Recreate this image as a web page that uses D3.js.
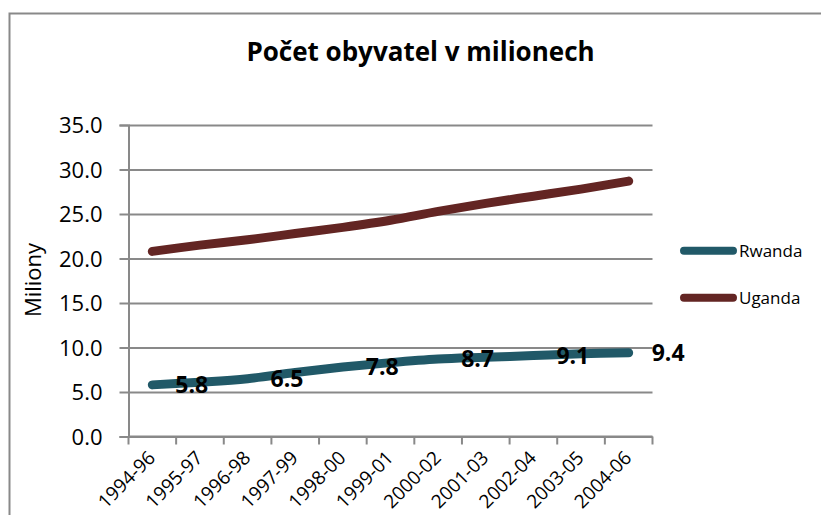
<!DOCTYPE html>
<html>
<head>
<meta charset="utf-8">
<script src="https://cdn.jsdelivr.net/npm/d3@7"></script>
<style>
	body { margin: 0; background: #fff; }
	text { font-family: "Open Sans", sans-serif; fill: #000; }
</style>
</head>
<body>
<div id="chart"></div>
<script>
var categories = ["1994-96", "1995-97", "1996-98", "1997-99", "1998-00", "1999-01",
				  "2000-02", "2001-03", "2002-04", "2003-05", "2004-06"]
var rwanda = [5.8, 6.1, 6.5, 7.2, 7.8, 8.3, 8.7, 8.9, 9.1, 9.3, 9.4]
var uganda = [20.8, 21.5, 22.1, 22.8, 23.5, 24.3, 25.3, 26.2, 27.0, 27.8, 28.7]
var yTicks = [0, 5, 10, 15, 20, 25, 30, 35]

var w = 821,
	h = 515,
	plotLeft = 128.5,
	plotRight = 652.5,
	plotTop = 125,
	plotBottom = 436.5,
	axisGrey = "#898989";

var cRwanda = "#215968",
	cUganda = "#632523";

var series = [{"name": "Rwanda", "values": rwanda, "color": cRwanda},
			  {"name": "Uganda", "values": uganda, "color": cUganda}]

var svg = d3.select("#chart")
			.append("svg")
			.attr("width", w)
			.attr("height", h)

// outer chart border (right and bottom edges fall outside the picture)
svg.append("rect")
	.attr("x", 9.5)
	.attr("y", 13.5)
	.attr("width", 900)
	.attr("height", 600)
	.attr("fill", "none")
	.attr("stroke", axisGrey)
	.attr("stroke-width", 2)

var x = d3.scaleBand()
		.domain(categories)
		.range([plotLeft, plotRight])
var bw = x.bandwidth()
var cx = function(i) { return x(categories[i]) + bw / 2 }

var y = d3.scaleLinear()
		.domain([0, 35])
		.range([plotBottom, plotTop])

// gridlines
svg.append("g")
	.attr("transform", "translate(" + plotLeft + ",0)")
	.call(d3.axisLeft(y).tickValues(yTicks).tickSize(-(plotRight - plotLeft)).tickFormat(""))
	.call(function(g) {
		g.select(".domain").remove()
		g.selectAll("line").attr("stroke", axisGrey).attr("stroke-width", 2)
	})

// y axis with tick labels
svg.append("g")
	.attr("transform", "translate(" + plotLeft + ",0)")
	.call(d3.axisLeft(y).tickValues(yTicks).tickSize(9).tickPadding(17).tickFormat(d3.format(".1f")))
	.call(function(g) {
		g.select(".domain").attr("stroke", axisGrey).attr("stroke-width", 2)
		g.selectAll("line").attr("stroke", axisGrey).attr("stroke-width", 2)
		g.selectAll("text")
			.attr("font-size", 22)
			.attr("font-family", "Open Sans")
			.attr("fill", "#000")
			.attr("dy", "0.35em")
	})

// x axis line and tick marks at the category boundaries
var bounds = categories.map(function(c) { return x(c) }).concat([plotRight])
svg.append("line")
	.attr("x1", plotLeft).attr("x2", plotRight)
	.attr("y1", plotBottom).attr("y2", plotBottom)
	.attr("stroke", axisGrey).attr("stroke-width", 2)
svg.selectAll(".xTick")
	.data(bounds)
	.enter()
	.append("line")
	.attr("class", "xTick")
	.attr("x1", function(d) { return d }).attr("x2", function(d) { return d })
	.attr("y1", plotBottom).attr("y2", plotBottom + 8)
	.attr("stroke", axisGrey).attr("stroke-width", 2)

// rotated category labels
svg.selectAll(".xLabel")
	.data(categories)
	.enter()
	.append("text")
	.attr("class", "xLabel")
	.attr("text-anchor", "end")
	.attr("font-size", 19)
	.attr("transform", function(d, i) { return "translate(" + (cx(i) + 4) + "," + 459 + ") rotate(-45)" })
	.text(function(d) { return d })

// y axis title
svg.append("text")
	.attr("transform", "translate(41,280) rotate(-90)")
	.attr("text-anchor", "middle")
	.attr("font-size", 22)
	.text("Miliony")

// title
svg.append("text")
	.attr("x", 420.5)
	.attr("y", 61)
	.attr("text-anchor", "middle")
	.attr("font-size", 26)
	.attr("font-weight", "bold")
	.text("Počet obyvatel v milionech")

// smoothed lines
var line = d3.line()
		.x(function(d, i) { return cx(i) })
		.y(function(d) { return y(d) })
		.curve(d3.curveCardinal.tension(0))

svg.selectAll(".seriesLine")
	.data(series)
	.enter()
	.append("path")
	.attr("class", "seriesLine")
	.attr("d", function(d) { return line(d.values) })
	.attr("fill", "none")
	.attr("stroke", function(d) { return d.color })
	.attr("stroke-width", 9)
	.attr("stroke-linecap", "round")
	.attr("stroke-linejoin", "round")

// data labels on every other Rwanda point
svg.selectAll(".dataLabel")
	.data(rwanda.map(function(v, i) { return {"v": v, "i": i} }).filter(function(d) { return d.i % 2 == 0 }))
	.enter()
	.append("text")
	.attr("class", "dataLabel")
	.attr("x", function(d) { return cx(d.i) + 23 })
	.attr("y", function(d) { return y(d.v) + 8 })
	.attr("font-size", 23)
	.attr("font-weight", "bold")
	.text(function(d) { return d3.format(".1f")(d.v) })

// legend
var legend = svg.selectAll(".legend")
		.data(series)
		.enter()
		.append("g")
		.attr("class", "legend")
		.attr("transform", function(d, i) { return "translate(0," + (250.7 + i * 47) + ")" })

legend.append("line")
	.attr("x1", 684).attr("x2", 733)
	.attr("y1", 0).attr("y2", 0)
	.attr("stroke", function(d) { return d.color })
	.attr("stroke-width", 8)
	.attr("stroke-linecap", "round")

legend.append("text")
	.attr("x", 739)
	.attr("y", 6)
	.attr("font-size", 17)
	.text(function(d) { return d.name })
</script>
</body>
</html>
